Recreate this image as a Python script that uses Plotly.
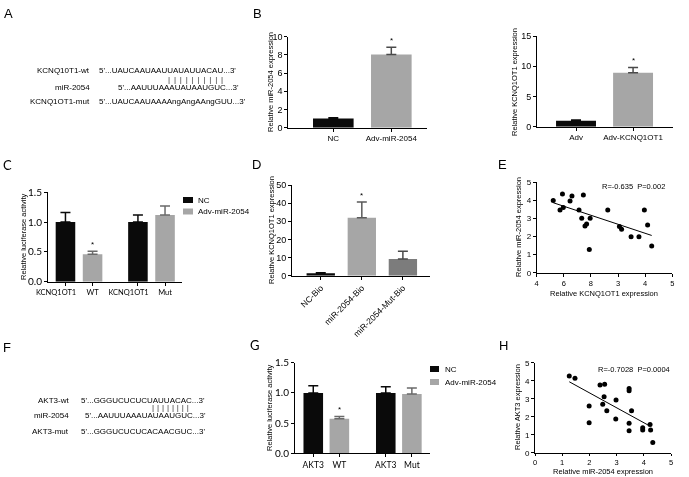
import plotly.graph_objects as go
import numpy as np

W, H = 689, 477

# ---------------- data ----------------
# Panel B (left)
b1_cats = ["NC", "Adv-miR-2054"]
b1_vals = [1.0, 8.05]
b1_err = [0.1, 0.78]
b1_sig = [False, True]
# Panel B (right)
b2_cats = ["Adv", "Adv-KCNQ1OT1"]
b2_vals = [1.0, 8.94]
b2_err = [0.12, 0.83]
b2_sig = [False, True]
# Panel C
c_groups = ["WT", "Mut"]
c_labels = ["KCNQ1OT1", "WT", "KCNQ1OT1", "Mut"]
c_nc = [1.0, 1.0]
c_nc_err = [0.16, 0.12]
c_adv = [0.46, 1.12]
c_adv_err = [0.05, 0.15]
c_sig = [True, False]
# Panel D
d_cats = ["NC-Bio", "miR-2054-Bio", "miR-2054-Mut-Bio"]
d_vals = [1.3, 32.0, 9.2]
d_err = [0.3, 8.6, 4.3]
d_sig = [False, True, False]
# Panel E (x in tick-index units; tick labels as printed)
e_ticktext = ["4", "6", "8", "3", "4", "5"]
e_x = [0.61, 0.95, 0.86, 0.98, 1.23, 1.30, 1.56, 1.66, 1.72, 1.78, 1.84,
       1.97, 1.94, 2.62, 3.05, 3.13, 3.48, 3.77, 3.97, 4.09, 4.24]
e_y = [3.99, 4.35, 3.47, 3.60, 3.97, 4.24, 3.47, 3.01, 4.30, 2.58, 2.69,
       3.01, 1.29, 3.47, 2.55, 2.40, 1.99, 1.99, 3.47, 2.64, 1.48]
e_fit_x = [0.61, 4.24]
e_fit_y = [3.87, 2.06]
e_text = "R=-0.635  P=0.002"
# Panel G
g_groups = ["WT", "Mut"]
g_labels = ["AKT3", "WT", "AKT3", "Mut"]
g_nc = [1.0, 1.0]
g_nc_err = [0.12, 0.10]
g_adv = [0.57, 0.98]
g_adv_err = [0.04, 0.10]
g_sig = [True, False]
# Panel H
h_x = [1.26, 1.47, 1.99, 1.99, 2.39, 2.56, 2.54, 2.49, 2.64, 2.98, 2.97,
       3.46, 3.46, 3.55, 3.46, 3.46, 3.96, 3.96, 4.23, 4.25, 4.33]
h_y = [4.26, 4.13, 2.59, 1.67, 3.76, 3.80, 3.11, 2.69, 2.33, 2.93, 1.87,
       3.57, 3.44, 2.33, 1.63, 1.22, 1.39, 1.26, 1.57, 1.26, 0.56]
h_fit_x = [1.26, 4.20]
h_fit_y = [3.94, 1.50]
h_text = "R=-0.7028  P=0.0004"

BLACK = "#0a0a0a"
GRAY = "#a6a6a6"
DGRAY = "#7c7c7c"
WHISK_G = "#6a6a6a"
FONT = "Liberation Sans, Arial, sans-serif"
FONT2 = "Lato, Liberation Sans, sans-serif"


def xd(x0, x1):
    return [x0 / W, x1 / W]


def yd(ytop, ybot):
    return [1 - ybot / H, 1 - ytop / H]


fig = go.Figure()
layout = dict(width=W, height=H, margin=dict(l=0, r=0, t=0, b=0),
              paper_bgcolor="white", plot_bgcolor="white", showlegend=False,
              barmode="overlay", template="none")
annotations = []
shapes = []


def add_axes(i, xdom, ydom, xr, yr, tickvals=None, ticktext=None, dtick=None,
             tickfont_x=8, tickfont_y=9, tickangle=0, yformat=None, font=FONT):
    common = dict(showline=True, linecolor="black", linewidth=1, ticks="outside",
                  ticklen=3, tickwidth=1, tickcolor="black", showgrid=False,
                  zeroline=False)
    xa = dict(domain=xdom, anchor=f"y{i}", range=xr, **common,
              tickfont=dict(family=font, size=tickfont_x, color="black"),
              tickangle=tickangle)
    if tickvals is not None:
        xa.update(tickmode="array", tickvals=tickvals, ticktext=ticktext)
    ya = dict(domain=ydom, anchor=f"x{i}", range=yr, **common, dtick=dtick,
              tickfont=dict(family=font, size=tickfont_y, color="black"))
    if yformat:
        ya["tickformat"] = yformat
    layout["xaxis" if i == 1 else f"xaxis{i}"] = xa
    layout["yaxis" if i == 1 else f"yaxis{i}"] = ya


def axref(i):
    return ("x" if i == 1 else f"x{i}"), ("y" if i == 1 else f"y{i}")


def bars(i, xs, vals, errs, colors, whisk, width):
    xr, yr = axref(i)
    for x, v, e, c, wc in zip(xs, vals, errs, colors, whisk):
        fig.add_trace(go.Bar(x=[x], y=[v], width=width, marker=dict(color=c, line=dict(width=0)),
                             error_y=dict(type="data", symmetric=False, array=[e], arrayminus=[0],
                                          color=wc, thickness=1.5, width=5),
                             xaxis=xr, yaxis=yr))


def stars(i, xs, vals, errs, sig):
    xr, yr = axref(i)
    for x, v, e, s in zip(xs, vals, errs, sig):
        if s:
            annotations.append(dict(x=x, y=v + e, xref=xr, yref=yr, text="*", showarrow=False,
                                    yanchor="middle", yshift=7, font=dict(family=FONT, size=8, color="black")))


def text(xp, yp, t, size=8, anchor="left", angle=0, font=FONT, color="black"):
    annotations.append(dict(x=xp / W, y=1 - yp / H, xref="paper", yref="paper", text=t,
                            showarrow=False, xanchor=anchor, yanchor="middle", textangle=angle,
                            font=dict(family=font, size=size, color=color)))


# ---------- Panel B left ----------
pos = list(range(len(b1_cats)))
add_axes(1, xd(288.3, 426.7), yd(36.7, 127.7), [-0.776, 1.61], [0, 10], pos, b1_cats, dtick=2)
bars(1, pos, b1_vals, b1_err, [BLACK, GRAY], [BLACK, "#4a4a4a"], 0.70)
stars(1, pos, b1_vals, b1_err, b1_sig)
text(270, 82, "Relative miR-2054 expression", 7.5, "center", -90)

# ---------- Panel B right ----------
pos = list(range(len(b2_cats)))
add_axes(2, xd(537, 673), yd(36, 126.7), [-0.684, 1.70], [0, 15], pos, b2_cats, dtick=5)
bars(2, pos, b2_vals, b2_err, [BLACK, GRAY], [BLACK, "#4a4a4a"], 0.70)
stars(2, pos, b2_vals, b2_err, b2_sig)
text(514, 82, "Relative KCNQ1OT1 expression", 7.5, "center", -90)

# ---------- Panel C ----------
off = 0.187
nc_x = [g - off for g in range(len(c_groups))]
adv_x = [g + off for g in range(len(c_groups))]
tv = [v for pair in zip(nc_x, adv_x) for v in pair]
# labels under the NC bars sit a little to the left in the original
c_ticktext = [lab + ("\u2002" * 5 if k % 2 == 0 else "") for k, lab in enumerate(c_labels)]
add_axes(3, xd(48, 181.7), yd(192.3, 281.7), [-0.428, 1.417], [0, 1.5], tv, c_ticktext,
         dtick=0.5, tickfont_x=7.5, tickfont_y=10, yformat=".1f", font=FONT2)
bars(3, nc_x, c_nc, c_nc_err, [BLACK] * 2, [BLACK] * 2, 0.27)
bars(3, adv_x, c_adv, c_adv_err, [GRAY] * 2, [WHISK_G] * 2, 0.27)
stars(3, adv_x, c_adv, c_adv_err, c_sig)
text(23, 237, "Relative luciferase activity", 7.5, "center", -90)
# legend C
for k, (lab, col) in enumerate([("NC", BLACK), ("Adv-miR-2054", GRAY)]):
    yc = 200 + k * 11.5
    shapes.append(dict(type="rect", xref="paper", yref="paper", x0=183 / W, x1=193 / W,
                       y0=1 - (yc + 3) / H, y1=1 - (yc - 3) / H, fillcolor=col, line=dict(width=0)))
    text(196, yc, lab, 8)

# ---------- Panel D ----------
pos = list(range(len(d_cats)))
add_axes(4, xd(292, 430), yd(185, 275.7), [-0.70, 2.66], [0, 50], pos, d_cats,
         dtick=10, tickangle=-45, tickfont_x=8.5)
bars(4, pos, d_vals, d_err, [BLACK, GRAY, DGRAY], [BLACK, "#5a5a5a", "#4a4a4a"], 0.69)
stars(4, pos, d_vals, d_err, d_sig)
text(272, 230, "Relative KCNQ1OT1 expression", 7.5, "center", -90)

# ---------- Panel E ----------
add_axes(5, xd(536.7, 672.3), yd(182.3, 272.7), [0, 5], [0, 5], list(range(len(e_ticktext))),
         e_ticktext, dtick=1, tickfont_x=7.5, tickfont_y=8)
xr, yr = axref(5)
fig.add_trace(go.Scatter(x=e_x, y=e_y, mode="markers", marker=dict(color="black", size=5),
                         xaxis=xr, yaxis=yr))
fig.add_trace(go.Scatter(x=e_fit_x, y=e_fit_y, mode="lines", line=dict(color="black", width=1),
                         xaxis=xr, yaxis=yr))
text(633, 186, e_text, 7.5, "center")
text(519, 227, "Relative miR-2054 expression", 7.5, "center", -90)
text(604, 293, "Relative KCNQ1OT1 expression", 7.5, "center")

# ---------- Panel G ----------
off = 0.18
nc_x = [g - off for g in range(len(g_groups))]
adv_x = [g + off for g in range(len(g_groups))]
tv = [v for pair in zip(nc_x, adv_x) for v in pair]
add_axes(6, xd(295, 430), yd(362.7, 453.3), [-0.432, 1.43], [0, 1.5], tv, g_labels,
         dtick=0.5, tickfont_x=8.5, tickfont_y=10, yformat=".1f", font=FONT2)
bars(6, nc_x, g_nc, g_nc_err, [BLACK] * 2, [BLACK] * 2, 0.27)
bars(6, adv_x, g_adv, g_adv_err, [GRAY] * 2, [WHISK_G] * 2, 0.27)
stars(6, adv_x, g_adv, g_adv_err, g_sig)
text(269, 408, "Relative luciferase activity", 7.5, "center", -90)
for k, (lab, col) in enumerate([("NC", BLACK), ("Adv-miR-2054", GRAY)]):
    yc = 369 + k * 13
    shapes.append(dict(type="rect", xref="paper", yref="paper", x0=430 / W, x1=439 / W,
                       y0=1 - (yc + 3) / H, y1=1 - (yc - 3) / H, fillcolor=col, line=dict(width=0)))
    text(443, yc, lab, 8)

# ---------- Panel H ----------
add_axes(7, xd(535, 671), yd(362.7, 452.7), [0, 5], [0, 5], None, None, dtick=1,
         tickfont_x=7.5, tickfont_y=8)
layout["xaxis7"]["dtick"] = 1
layout["xaxis7"]["ticklen"] = 2
xr, yr = axref(7)
fig.add_trace(go.Scatter(x=h_x, y=h_y, mode="markers", marker=dict(color="black", size=5),
                         xaxis=xr, yaxis=yr))
fig.add_trace(go.Scatter(x=h_fit_x, y=h_fit_y, mode="lines", line=dict(color="black", width=1),
                         xaxis=xr, yaxis=yr))
text(634, 369, h_text, 7.5, "center")
text(517, 407, "Relative AKT3 expression", 7.5, "center", -90)
text(603, 471.5, "Relative miR-2054 expression", 7.5, "center")

# ---------- Panel A (sequences) ----------
SEP = " \u2009"
text(92.3, 70, "KCNQ10T1-wt", 8, "right")
text(97.3, 70, "5'...UAUCAAUAAUUAUAUUACAU...3'", 8)
text(92.3, 87.3, "miR-2054", 8, "right")
text(116, 87.3, "5'...AAUUUAAAUAUAAUGUC...3'", 8)
text(92.3, 101, "KCNQ1OT1-mut", 8, "right")
text(97.3, 101, "5'...UAUCAAUAAAAngAngAAngGUU...3'", 8)
text(165.5, 79, SEP.join(["|"] * 10), 8, color="#333333")

# ---------- Panel F ----------
text(70.7, 400, "AKT3-wt", 8, "right")
text(79, 400, "5'...GGGUCUCUCUAUUACAC...3'", 8)
text(70.7, 415.7, "miR-2054", 8, "right")
text(83.3, 415.7, "5'...AAUUUAAAUAUAAUGUC...3'", 8)
text(70.7, 431, "AKT3-mut", 8, "right")
text(79, 431, "5'...GGGUCUCUCACAACGUC...3'", 8)
text(149.5, 407.3, (" \u200a").join(["|"] * 8), 8, color="#333333")

# ---------- panel letters ----------
for lab, xp, yp, f in [("A", 8, 13, FONT), ("B", 257, 13, FONT), ("C", 7, 165, FONT2),
                       ("D", 256, 165, FONT), ("E", 502, 165, FONT), ("F", 7, 347, FONT),
                       ("G", 255, 345, FONT2), ("H", 503, 345, FONT)]:
    text(xp, yp, lab, 13, "center", 0, f)

layout["annotations"] = annotations
layout["shapes"] = shapes
fig.update_layout(**layout)
fig.write_html(
    "out.html", config={"displayModeBar": False},
    post_script=("document.body.style.margin='0px';document.body.style.overflow='hidden';"
                 "var st=document.createElement('style');"
                 "st.textContent='.main-svg{will-change:transform;}';"
                 "document.head.appendChild(st);"))
